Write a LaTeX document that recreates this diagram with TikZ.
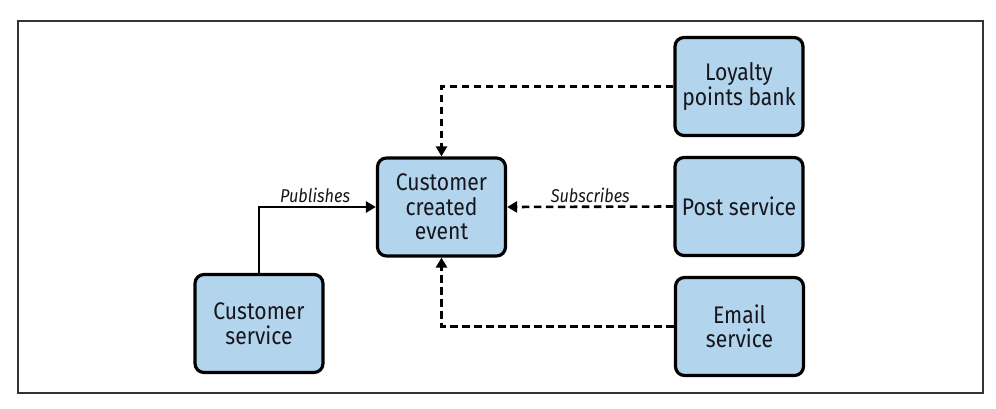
\documentclass[tikz,border=0pt]{standalone}
\usepackage{fontspec}
\setmainfont{Fira Sans}[FakeStretch=0.88]
\usetikzlibrary{arrows.meta}

\definecolor{boxblue}{RGB}{178,212,236}
\definecolor{txtdark}{RGB}{22,22,28}

\tikzset{
  svcbox/.style={draw=black, line width=3.2pt, rounded corners=9pt, fill=boxblue,
    minimum width=128pt, minimum height=98pt, align=center, text=txtdark,
    font=\fontsize{24}{24.5}\selectfont},
  publine/.style={line width=2.6pt, -{Triangle[length=10pt,width=11pt]}},
  subline/.style={publine, dash pattern=on 7.5pt off 4.5pt},
  lbl/.style={font=\fontsize{18.5}{20}\selectfont\itshape, text=txtdark, inner sep=2.5pt}
}

\begin{document}
\begin{tikzpicture}[x=1pt,y=1pt]
\useasboundingbox (0,0) rectangle (996,408);

% outer frame
\draw[line width=1.3pt, black!80] (18,15) rectangle (983,387);

% boxes
\node[svcbox] (event) at (441.5,201) {Customer\\created\\event};
\node[svcbox] (cust) at (259,84.5) {Customer\\service};
\node[svcbox] (loyalty) at (739,321.5) {Loyalty\\points bank};
\node[svcbox] (post) at (739,201.5) {Post service};
\node[svcbox] (email) at (739.5,81.5) {Email\\service};

% publish
\draw[publine] (cust.north) |- node[lbl, pos=0.74, above] (pubtxt) {Publishes} (event.west);

% subscribers
\draw[subline] (loyalty.west) -| (event.north);
\draw[subline] (post.west) -- node[lbl, above] (subtxt) {Subscribes} (event.east);
\draw[subline] (email.west) -| (event.south);

\end{tikzpicture}
\end{document}
